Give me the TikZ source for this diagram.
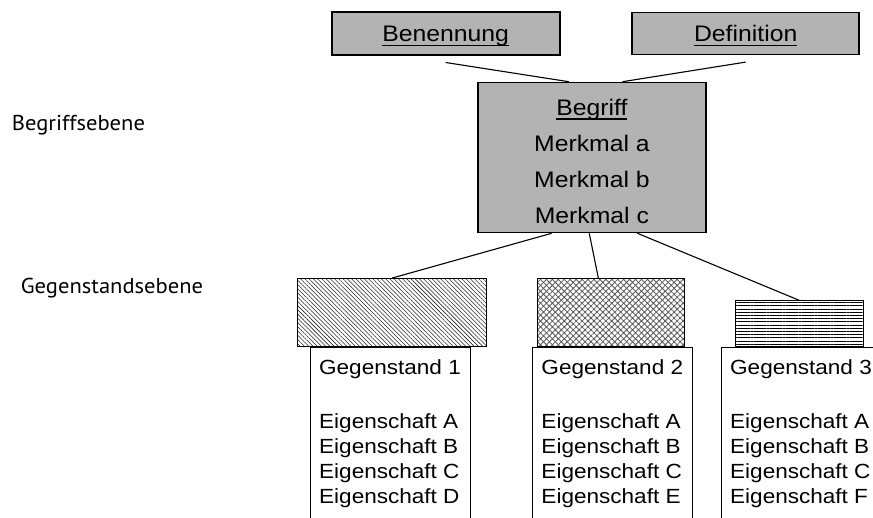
\documentclass[tikz,border=0pt]{standalone}
\usepackage{fontspec}
\setmainfont{Liberation Sans}[FakeStretch=1.1]
\newfontfamily\ebenefont{PT Sans}[FakeStretch=1.05]
\usetikzlibrary{patterns.meta}
\definecolor{boxgrau}{RGB}{179,179,179}
\newsavebox{\ustrbox}
\newcommand{\unterstrich}[1]{\sbox{\ustrbox}{#1}\rlap{\rule[-4.7pt]{\wd\ustrbox}{1.3pt}}\usebox{\ustrbox}}
\tikzset{
    kasten/.style = {
        draw,
        shape=rectangle,
        fill=boxgrau,
        line width=1.6pt,
        text depth=0pt,
        font=\fontsize{22.5}{36}\selectfont
    },
    muster/.style = {
        draw,
        shape=rectangle,
        line width=1.1pt
    },
    gegenstand/.style = {
        draw,
        shape=rectangle,
        minimum width=160pt,
        minimum height=172pt,
        line width=1pt,
        align=left,
        font=\fontsize{20.5}{25}\selectfont
    },
    ebene/.style = {
        inner sep=0pt,
        font=\ebenefont\fontsize{21.5}{24}\selectfont
    },
    linie/.style = {
        line width=1.1pt
    },
}

\begin{document}
\begin{tikzpicture}[x=1pt,y=-1pt]
    \useasboundingbox (0,0) rectangle (873,517);
    \clip (0,0) rectangle (873,517);

    \node[ebene, anchor=base west] (begriffsebene) at (11.7,130) {Begriffsebene};
    \node[ebene, anchor=base west] (gegenstandsebene) at (20.7,293) {Gegenstandsebene};

    \node[kasten, minimum width=228pt, minimum height=43pt] (benennung) at (445.7,33.7) {\unterstrich{Benennung}};
    \node[kasten, minimum width=227pt, minimum height=42pt] (definition) at (745.7,33.3) {\unterstrich{Definition}};
    \node[kasten, minimum width=228pt, minimum height=150pt, align=center] (begriff) at (591.9,157.5)
        {\rule{0pt}{23pt}\unterstrich{Begriff}\\Merkmal a\\Merkmal b\\Merkmal c};

    \node[muster, minimum width=189pt, minimum height=68.4pt, pattern color=black!85,
        pattern={Lines[angle=-45,distance=3pt,line width=0.55pt]}] (muster1) at (392.2,312.5) {};
    \node[muster, minimum width=146.3pt, minimum height=68.4pt, pattern color=black!65,
        pattern={Hatch[angle=45,distance=4.2pt,line width=0.8pt]}] (muster2) at (610.9,312.5) {};
    \node[muster, minimum width=128.7pt, minimum height=46pt,
        pattern={Lines[angle=0,distance=3.2pt,line width=0.6pt]}] (muster3) at (799.4,323.7) {};

    \node[gegenstand] (gegenstand1) at (390,433.9)
        {Gegenstand 1\\[29pt]Eigenschaft A\\Eigenschaft B\\Eigenschaft C\\Eigenschaft D};
    \node[gegenstand] (gegenstand2) at (612.3,433.9)
        {Gegenstand 2\\[29pt]Eigenschaft A\\Eigenschaft B\\Eigenschaft C\\Eigenschaft E};
    \node[gegenstand] (gegenstand3) at (801,433.9)
        {Gegenstand 3\\[29pt]Eigenschaft A\\Eigenschaft B\\Eigenschaft C\\Eigenschaft F};

    \path[draw, linie] ([yshift=-6.5pt]benennung.south) -- (begriff.107.7);
    \path[draw, linie] ([yshift=-7pt]definition.south) -- (begriff.68.2);
    \path[draw, linie] (begriff.242) -- (muster1.north);
    \path[draw, linie] (begriff.268.5) -- (muster2.110);
    \path[draw, linie] (begriff.301) -- (muster3.north);
\end{tikzpicture}
\end{document}
